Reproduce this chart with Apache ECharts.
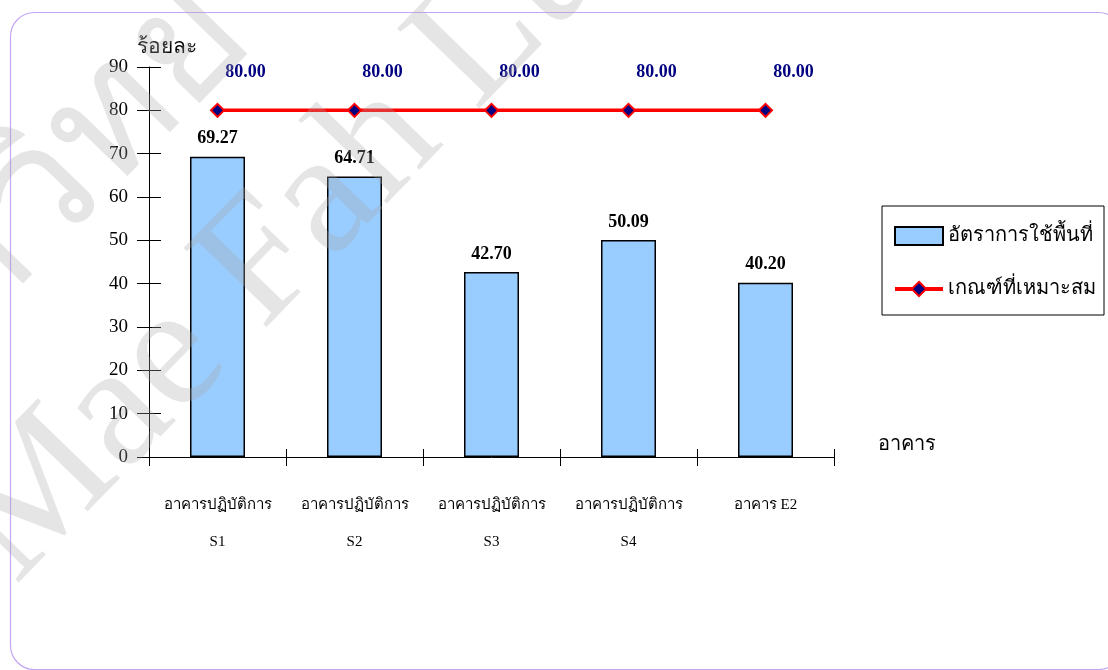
<!DOCTYPE html>
<html>
<head>
<meta charset="utf-8">
<style>html,body{margin:0;padding:0;background:#fff;}#c{width:1108px;height:670px;}</style>
<script src="https://cdn.jsdelivr.net/npm/echarts@6/dist/echarts.min.js"></script>
</head>
<body>
<div id="c"></div>
<script>
// ---- data ----
const categories = ['อาคารปฏิบัติการ\nS1', 'อาคารปฏิบัติการ\nS2', 'อาคารปฏิบัติการ\nS3', 'อาคารปฏิบัติการ\nS4', 'อาคาร E2'];
const usageRate = [69.27, 64.71, 42.70, 50.09, 40.20];
const criterion = [80, 80, 80, 80, 80];
const barName = 'อัตราการใช้พื้นที่';
const lineName = 'เกณฑ์ที่เหมาะสม';
const yAxisName = 'ร้อยละ';
const xAxisName = 'อาคาร';

const FONT = "'Liberation Serif', 'Times New Roman', serif";
const chart = echarts.init(document.getElementById('c'), null, {renderer: 'canvas'});

const option = {
  backgroundColor: '#ffffff',
  animation: false,
  grid: {left: 149, right: 274, top: 67, bottom: 213},
  legend: {
    orient: 'vertical',
    left: 882, top: 206,
    padding: [20, 8, 16, 11],
    itemGap: 33,
    itemWidth: 48, itemHeight: 18,
    borderColor: '#000', borderWidth: 1, borderRadius: 0,
    backgroundColor: '#fff',
    textStyle: {fontFamily: FONT, fontSize: 20, color: '#000'},
    data: [{name: barName, icon: 'rect'}, {name: lineName}],
    lineStyle: {width: 4, color: '#ff0000'}
  },
  xAxis: [{
    type: 'category', data: categories, boundaryGap: true,
    name: xAxisName, nameLocation: 'end', nameGap: 44,
    nameTextStyle: {fontFamily: FONT, fontSize: 20, color: '#000', align: 'left', verticalAlign: 'bottom', padding: [0, 0, 2, 0]},
    axisLine: {lineStyle: {color: '#000', width: 1}},
    axisTick: {show: true, alignWithLabel: false, length: 9, lineStyle: {color: '#000'}},
    axisLabel: {fontFamily: FONT, fontSize: 15, color: '#000', margin: 30, lineHeight: 37, interval: 0},
    splitLine: {show: false}
  }, {
    type: 'category', data: categories, boundaryGap: true, position: 'bottom',
    axisLine: {show: false},
    axisTick: {show: true, inside: true, length: 8, lineStyle: {color: '#000'}},
    axisLabel: {show: false}, splitLine: {show: false}
  }],
  yAxis: [{
    type: 'value', min: 0, max: 90, interval: 10,
    name: yAxisName, nameLocation: 'end', nameGap: 9,
    nameTextStyle: {fontFamily: FONT, fontSize: 21, color: '#000', align: 'left', padding: [0, 0, 0, -12]},
    axisLine: {show: true, lineStyle: {color: '#000', width: 1}},
    axisTick: {show: true, length: 12, lineStyle: {color: '#000'}},
    axisLabel: {fontFamily: FONT, fontSize: 19, color: '#000', margin: 21},
    splitLine: {show: false}
  }, {
    type: 'value', min: 0, max: 90, interval: 10, position: 'left',
    axisLine: {show: false},
    axisTick: {show: true, inside: true, length: 12, lineStyle: {color: '#000'}},
    axisLabel: {show: false}, splitLine: {show: false}
  }],
  series: [{
    name: barName, type: 'bar', data: usageRate, barWidth: 55,
    xAxisIndex: 0, yAxisIndex: 0,
    itemStyle: {color: '#99ccff', borderColor: '#000', borderWidth: 1.5},
    label: {show: true, position: 'top', distance: 9, fontFamily: FONT, fontSize: 18, fontWeight: 'bold', color: '#000',
      formatter: p => p.value.toFixed(2)}
  }, {
    name: lineName, type: 'line', data: criterion,
    xAxisIndex: 0, yAxisIndex: 0,
    lineStyle: {color: '#ff0000', width: 3.5},
    symbol: 'diamond', symbolSize: 13,
    itemStyle: {color: '#000080', borderColor: '#ff0000', borderWidth: 2},
    label: {show: true, position: 'top', offset: [28, -16], fontFamily: FONT, fontSize: 18, fontWeight: 'bold', color: '#000080',
      formatter: p => p.value.toFixed(2)},
    z: 5
  }],
  graphic: [{
    type: 'rect', left: 8, top: 10, z: -1, silent: true,
    shape: {width: 1112, height: 657, r: 24},
    style: {fill: 'none', stroke: '#c3a6f5', lineWidth: 1.2}
  }, {
    type: 'text', x: 45, y: 615, rotation: 0.8, z: 100, silent: true,
    style: {text: 'Mae Fah Luang', font: "175px 'Liberation Serif', serif", fill: 'rgba(170,170,170,0.3)', verticalAlign: 'bottom', align: 'left'}
  }, {
    type: 'text', x: -150, y: 520, rotation: 0.8, z: 100, silent: true,
    style: {text: 'มหาวิทยาลัยแม่ฟ้าหลวง', font: "170px 'Liberation Serif', serif", fill: 'rgba(170,170,170,0.3)', verticalAlign: 'bottom', align: 'left'}
  }]
};
chart.setOption(option);
</script>
</body>
</html>
